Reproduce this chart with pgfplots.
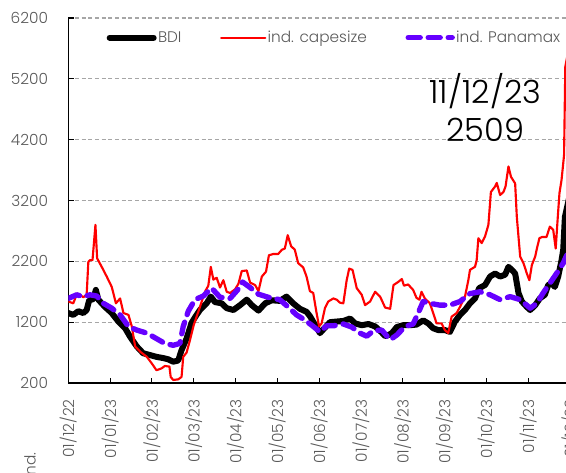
\documentclass[border=0pt]{standalone}
\usepackage{pgfplots}
\pgfplotsset{compat=1.18}
\usepackage{fontspec}
\setmainfont{Poppins Light}
\definecolor{txtgray}{HTML}{595959}
\definecolor{gridgray}{HTML}{A6A6A6}
\definecolor{capered}{HTML}{FF0000}
\definecolor{panamax}{HTML}{6600FF}
\newcommand{\lblfont}{\fontsize{11.5}{13.5}\selectfont}

\begin{document}
\begin{tikzpicture}
\useasboundingbox (0,0) rectangle (424.5pt,354pt);
\clip (0,0) rectangle (424.5pt,354pt);
\begin{axis}[
  at={(51.2pt,66.75pt)}, anchor=south west,
  scale only axis, width=387.2pt, height=273.75pt,
  xmin=0, xmax=12.35, ymin=200, ymax=6200,
  axis lines=left, axis line style={-, black, line width=1.1pt},
  xtick={0,...,12},
  xticklabels={01/12/22,01/01/23,01/02/23,01/03/23,01/04/23,01/05/23,01/06/23,01/07/23,01/08/23,01/09/23,01/10/23,01/11/23,01/12/23},
  ytick={200,1200,...,6200},
  ymajorgrids, grid style={gridgray, line width=0.8pt, dash pattern=on 3pt off 2pt},
  tick align=inside, major tick length=4pt, tick style={black, line width=0.8pt},
  xticklabel style={rotate=90, anchor=east, inner sep=0pt, font=\lblfont, text=txtgray},
  xticklabel shift=12pt,
  yticklabel style={anchor=east, inner sep=0pt, font=\lblfont, text=txtgray},
  yticklabel shift=15pt,
  /pgf/number format/assume math mode=true,
  /pgf/number format/1000 sep={},
  every axis plot/.append style={line join=round},
  legend columns=3,
  legend image code/.code={\draw[#1, line cap=round] (0pt,0pt) -- (33pt,0pt);},
  legend style={at={(0.0744,0.946)}, anchor=west, draw=none, fill=none,
    inner sep=0pt, outer sep=0pt, font=\lblfont, text=txtgray,
    nodes={inner sep=1pt}, legend cell align=left,
    /tikz/every even column/.append style={column sep=28pt}},
]
% BDI
\addplot[black, line width=4.5pt, line cap=round] coordinates {
(0,1350) (0.12,1320) (0.24,1380) (0.36,1350) (0.44,1400) (0.50,1560) (0.60,1580)
(0.66,1730) (0.72,1570) (0.88,1450) (1.04,1350) (1.20,1210) (1.36,1100) (1.48,960)
(1.64,800) (1.79,690) (1.95,660) (2.11,630) (2.27,610) (2.39,590) (2.51,550) (2.63,570)
(2.71,740) (2.83,930) (2.95,1190) (3.07,1320) (3.15,1400) (3.31,1510) (3.41,1620)
(3.51,1530) (3.67,1510) (3.79,1430) (3.95,1400) (4.11,1480) (4.27,1570) (4.39,1480)
(4.55,1390) (4.71,1510) (4.87,1560) (5.06,1550) (5.22,1620) (5.38,1510) (5.54,1420)
(5.70,1370) (5.78,1300) (5.90,1160) (6.02,1020) (6.14,1110) (6.26,1200) (6.42,1210)
(6.58,1220) (6.74,1260) (6.86,1180) (7.02,1150) (7.18,1170) (7.34,1130) (7.50,1030)
(7.58,970) (7.66,990) (7.74,1020) (7.86,1120) (8.01,1150) (8.17,1150) (8.33,1160)
(8.49,1230) (8.61,1180) (8.73,1100) (8.85,1070) (9.01,1070) (9.13,1040) (9.25,1210)
(9.37,1320) (9.49,1400) (9.61,1510) (9.73,1590) (9.83,1760) (9.97,1810) (10.09,1950)
(10.21,2000) (10.33,1950) (10.45,1980) (10.53,2110) (10.61,2060) (10.69,2000)
(10.77,1680) (10.85,1540) (10.97,1450) (11.05,1400) (11.17,1480) (11.28,1590)
(11.40,1650) (11.48,1810) (11.56,1840) (11.64,1780) (11.72,1950) (11.80,2220)
(11.84,2390) (11.88,2930) (12.00,3300) (12.10,3346) (12.33,2509)
};
\addlegendentry{BDI}
% Capesize
\addplot[capered, line width=1.6pt] coordinates {
(0,1540) (0.12,1510) (0.21,1670) (0.28,1650) (0.36,1610) (0.44,1650) (0.48,2190)
(0.52,2220) (0.58,2220) (0.65,2800) (0.69,2250) (0.80,2110) (0.92,1950) (1.04,1780)
(1.14,1510) (1.24,1590) (1.32,1350) (1.44,1320) (1.52,1130) (1.60,800) (1.72,715)
(1.88,630) (2.00,520) (2.11,410) (2.23,440) (2.31,480) (2.42,470) (2.45,300) (2.51,250)
(2.63,260) (2.71,300) (2.75,630) (2.83,700) (2.91,900) (3.00,1150) (3.15,1450)
(3.27,1700) (3.35,1800) (3.41,2110) (3.47,1900) (3.55,1930) (3.63,1770) (3.71,1890)
(3.79,1700) (3.87,1680) (3.99,1740) (4.07,1830) (4.15,2040) (4.27,2050) (4.35,1850)
(4.47,1810) (4.55,1710) (4.63,1950) (4.73,2030) (4.80,2300) (4.90,2320) (5.02,2320)
(5.11,2390) (5.18,2410) (5.25,2630) (5.33,2450) (5.42,2390) (5.50,2170) (5.62,2100)
(5.70,1950) (5.78,1710) (5.86,1680) (5.94,1350) (6.00,1130) (6.06,1180) (6.14,1430)
(6.22,1540) (6.34,1590) (6.42,1570) (6.50,1520) (6.58,1510) (6.66,1890) (6.72,2080)
(6.80,2060) (6.90,1760) (7.02,1650) (7.10,1480) (7.22,1540) (7.34,1700) (7.46,1620)
(7.58,1440) (7.70,1420) (7.78,1810) (7.89,1860) (7.98,1910) (8.03,1800) (8.13,1820)
(8.25,1730) (8.33,1600) (8.40,1570) (8.45,1700) (8.53,1590) (8.65,1510) (8.73,1350)
(8.81,1180) (8.93,1180) (9.01,1070) (9.09,1020) (9.17,1290) (9.29,1350) (9.37,1450)
(9.49,1620) (9.57,1890) (9.61,2060) (9.73,2110) (9.77,2220) (9.81,2580) (9.89,2500)
(9.97,2610) (10.05,2800) (10.11,3340) (10.21,3430) (10.25,3490) (10.33,3290)
(10.41,3340) (10.46,3430) (10.53,3760) (10.59,3590) (10.69,3480) (10.73,2930)
(10.81,2280) (10.89,2170) (10.97,2000) (11.03,1890) (11.09,2140) (11.17,2280)
(11.21,2410) (11.27,2580) (11.33,2600) (11.44,2600) (11.52,2770) (11.60,2720)
(11.66,2410) (11.71,2930) (11.75,3320) (11.80,3540) (11.84,3810) (11.86,3950)
(11.89,5400) (12.00,5800) (12.33,4600)
};
\addlegendentry{ind. capesize}
% Panamax
\addplot[panamax, line width=4pt, line cap=round, dash pattern=on 9pt off 6pt] coordinates {
(0,1590) (0.20,1650) (0.36,1620) (0.52,1650) (0.68,1630) (0.84,1510) (1.04,1430)
(1.24,1320) (1.44,1130) (1.64,1070) (1.88,1020) (2.11,930) (2.31,850) (2.51,820)
(2.67,850) (2.75,1130) (2.87,1380) (3.03,1570) (3.23,1630) (3.43,1760) (3.63,1610)
(3.87,1590) (4.05,1730) (4.17,1860) (4.35,1770) (4.55,1660) (4.78,1610) (5.06,1570)
(5.26,1450) (5.46,1320) (5.66,1236) (5.86,1130) (6.02,1040) (6.18,1140) (6.34,1140)
(6.58,1170) (6.78,1120) (6.98,1020) (7.14,970) (7.30,1060) (7.50,1070) (7.70,910)
(7.86,990) (8.06,1130) (8.25,1170) (8.37,1350) (8.49,1540) (8.65,1510) (8.89,1480)
(9.13,1480) (9.37,1540) (9.61,1670) (9.85,1700) (10.09,1650) (10.33,1570) (10.57,1620)
(10.81,1570) (11.05,1430) (11.21,1510) (11.36,1680) (11.52,1840) (11.68,2000)
(11.84,2170) (11.91,2280) (12.10,2500)
};
\addlegendentry{ind. Panamax}
\node[font=\fontsize{24}{29}\selectfont, align=center, text=black]
  at (axis description cs:0.808,0.755) {11/12/23\\2509};
\end{axis}
\node[rotate=90, anchor=east, inner sep=0pt, font=\lblfont, text=txtgray] at (22.5pt,15pt) {ind.};
\end{tikzpicture}
\end{document}
